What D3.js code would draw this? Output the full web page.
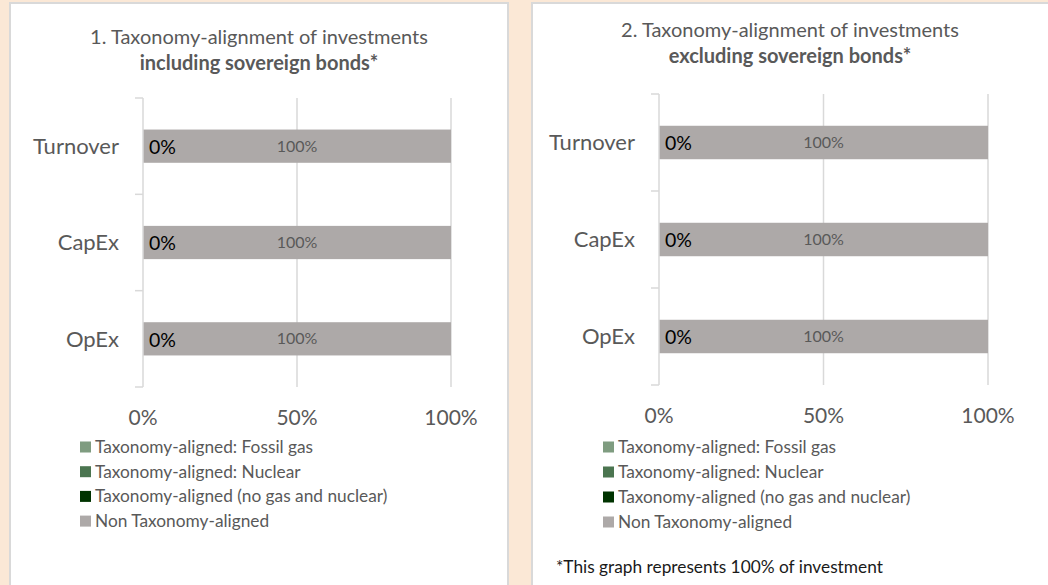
<!DOCTYPE html>
<html>
<head>
<meta charset="utf-8">
<script src="https://cdn.jsdelivr.net/npm/d3@7"></script>
<style>
  body { margin: 0; background: #fbe8d6; }
  svg { display: block; font-family: Lato, "Open Sans", sans-serif; }
</style>
</head>
<body>
<svg id="chart" width="1048" height="585"></svg>
<script>
var categories = ["Turnover", "CapEx", "OpEx"];
var seriesKeys = ["gas", "nuclear", "aligned", "non"];
var seriesNames = ["Taxonomy-aligned: Fossil gas", "Taxonomy-aligned: Nuclear", "Taxonomy-aligned (no gas and nuclear)", "Non Taxonomy-aligned"];
var seriesColors = ["#7f9c80", "#4b7550", "#003300", "#ada9a8"];

// values in % per category, order: Turnover, CapEx, OpEx
var inclGas = [0, 0, 0];
var inclNuclear = [0, 0, 0];
var inclAligned = [0, 0, 0];
var inclNon = [100, 100, 100];

var exclGas = [0, 0, 0];
var exclNuclear = [0, 0, 0];
var exclAligned = [0, 0, 0];
var exclNon = [100, 100, 100];

var xTicks = [0, 50, 100];

function buildRows(gas, nuclear, aligned, non) {
    return categories.map(function(c, i) {
        return {cat: c, gas: gas[i], nuclear: nuclear[i], aligned: aligned[i], non: non[i]};
    });
}

var svg = d3.select("#chart");

// panel backgrounds
svg.append("rect").attr("x", 10).attr("y", 3).attr("width", 498).attr("height", 620)
    .attr("fill", "#fff").attr("stroke", "#d9d9d9").attr("stroke-width", 2);
svg.append("rect").attr("x", 532).attr("y", 3).attr("width", 540).attr("height", 620)
    .attr("fill", "#fff").attr("stroke", "#d9d9d9").attr("stroke-width", 2);

function makePanel(cfg, rows) {
    var g = svg.append("g");

    var x = d3.scaleLinear().domain([0, 100]).range([cfg.x0, cfg.x1]);
    var yCat = d3.scaleBand().domain(categories).range([cfg.yTop, cfg.yBot]);
    var yBar = d3.scaleBand().domain(categories).range([cfg.yTop, cfg.yBot])
        .paddingInner(0.655).paddingOuter(0.3275);

    // title
    var title = g.append("text")
        .attr("x", cfg.titleX)
        .attr("text-anchor", "middle")
        .attr("fill", "#595959")
        .style("font-size", "20px");
    title.append("tspan").attr("x", cfg.titleX).attr("y", cfg.titleY).text(cfg.title1);
    title.append("tspan").attr("x", cfg.titleX).attr("y", cfg.titleY + 26)
        .style("font-weight", "bold").text(cfg.title2);

    // gridlines
    g.selectAll(".grid")
        .data(xTicks.slice(1))
        .enter()
        .append("line")
        .attr("x1", function(d) { return x(d); })
        .attr("x2", function(d) { return x(d); })
        .attr("y1", cfg.yTop)
        .attr("y2", cfg.yBot)
        .attr("stroke", "#d9d9d9")
        .attr("stroke-width", 1.5);

    // stacked bars
    var stacked = d3.stack().keys(seriesKeys)(rows);
    stacked.forEach(function(layer, li) {
        g.selectAll(".bar" + li)
            .data(layer)
            .enter()
            .append("rect")
            .attr("x", function(d) { return x(d[0]); })
            .attr("y", function(d) { return yBar(d.data.cat); })
            .attr("width", function(d) { return x(d[1]) - x(d[0]); })
            .attr("height", yBar.bandwidth())
            .attr("fill", seriesColors[li]);
    });

    // aligned label (0%)
    var alignedLayer = stacked[2];
    g.selectAll(".alignedLabel")
        .data(alignedLayer)
        .enter()
        .append("text")
        .attr("x", function(d) { return x(d[0]) + 6; })
        .attr("y", function(d) { return yBar(d.data.cat) + yBar.bandwidth() / 2 + 1; })
        .attr("dy", "0.35em")
        .attr("fill", "#000")
        .style("font-size", "19.5px")
        .text(function(d) { return (d[1] - d[0]) + "%"; });

    // non-aligned label (100%)
    var nonLayer = stacked[3];
    g.selectAll(".nonLabel")
        .data(nonLayer)
        .enter()
        .append("text")
        .attr("x", function(d) { return (x(d[0]) + x(d[1])) / 2; })
        .attr("y", function(d) { return yBar(d.data.cat) + yBar.bandwidth() / 2; })
        .attr("dy", "0.35em")
        .attr("text-anchor", "middle")
        .attr("fill", "#595959")
        .style("font-size", "16px")
        .text(function(d) { return (d[1] - d[0]) + "%"; });

    // y axis with boundary ticks
    var bounds = categories.map(function(c) { return yCat(c); }).concat([cfg.yBot]);
    g.append("line")
        .attr("x1", cfg.x0).attr("x2", cfg.x0)
        .attr("y1", cfg.yTop).attr("y2", cfg.yBot)
        .attr("stroke", "#d9d9d9").attr("stroke-width", 1.5);
    g.selectAll(".ytick")
        .data(bounds)
        .enter()
        .append("line")
        .attr("x1", cfg.x0 - 8).attr("x2", cfg.x0)
        .attr("y1", function(d) { return d; })
        .attr("y2", function(d) { return d; })
        .attr("stroke", "#d9d9d9").attr("stroke-width", 1.5);

    g.selectAll(".catLabel")
        .data(categories)
        .enter()
        .append("text")
        .attr("x", cfg.x0 - 24)
        .attr("y", function(d) { return yCat(d) + yCat.bandwidth() / 2; })
        .attr("dy", "0.35em")
        .attr("text-anchor", "end")
        .attr("fill", "#595959")
        .style("font-size", "22px")
        .text(function(d) { return d; });

    // x tick labels
    g.selectAll(".xLabel")
        .data(xTicks)
        .enter()
        .append("text")
        .attr("x", function(d) { return x(d); })
        .attr("y", cfg.xLabelY)
        .attr("text-anchor", "middle")
        .attr("fill", "#595959")
        .style("font-size", "21px")
        .text(function(d) { return d + "%"; });

    // legend
    var legend = g.selectAll(".legendItem")
        .data(seriesNames)
        .enter()
        .append("g")
        .attr("transform", function(d, i) { return "translate(" + cfg.legendX + "," + (cfg.legendY + i * cfg.legendStep) + ")"; });
    legend.append("rect")
        .attr("x", 0).attr("y", -5.5)
        .attr("width", 11).attr("height", 11)
        .attr("fill", function(d, i) { return seriesColors[i]; });
    legend.append("text")
        .attr("x", 15)
        .attr("y", 0)
        .attr("dy", "0.35em")
        .attr("fill", "#595959")
        .style("font-size", "17.3px")
        .text(function(d) { return d; });
}

makePanel({
    x0: 143, x1: 451, yTop: 98, yBot: 387,
    titleX: 259, titleY: 44,
    title1: "1. Taxonomy-alignment of investments",
    title2: "including sovereign bonds*",
    xLabelY: 425,
    legendX: 80, legendY: 447, legendStep: 24.7
}, buildRows(inclGas, inclNuclear, inclAligned, inclNon));

makePanel({
    x0: 659, x1: 988, yTop: 94, yBot: 385,
    titleX: 790, titleY: 37,
    title1: "2. Taxonomy-alignment of investments",
    title2: "excluding sovereign bonds*",
    xLabelY: 423,
    legendX: 603, legendY: 447, legendStep: 25
}, buildRows(exclGas, exclNuclear, exclAligned, exclNon));

svg.append("text")
    .attr("x", 556)
    .attr("y", 573)
    .attr("fill", "#1a1a1a")
    .style("font-size", "17.3px")
    .text("*This graph represents 100% of investment");
</script>
</body>
</html>
